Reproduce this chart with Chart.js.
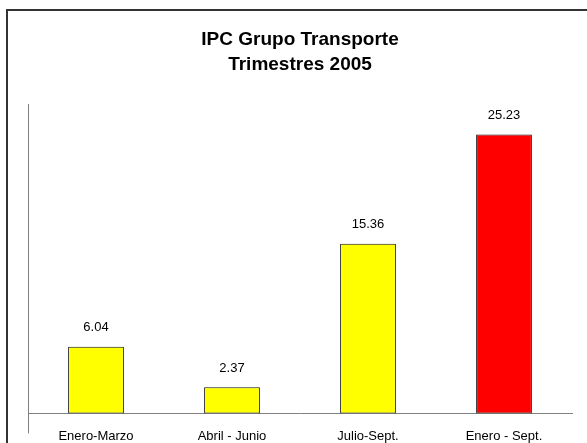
<!DOCTYPE html>
<html>
<head>
<meta charset="utf-8">
<script src="https://cdn.jsdelivr.net/npm/chart.js@4/dist/chart.umd.min.js"></script>
<style>
  html, body { margin: 0; padding: 0; background: #fff; }
  #wrap { position: relative; width: 587px; height: 443px; overflow: hidden; }
  #frame {
    position: absolute; left: 6px; top: 9px; width: 620px; height: 480px;
    border: 2px solid #333; pointer-events: none;
  }
</style>
</head>
<body>
<div id="wrap">
  <canvas id="ipcChart" width="587" height="443"></canvas>
  <div id="frame"></div>
</div>
<script>
// IPC grupo transporte, variacion por trimestre 2005
const categories = ["Enero-Marzo", "Abril - Junio", "Julio-Sept.", "Enero - Sept."];
const values = [6.04, 2.37, 15.36, 25.23];
const titleLines = ["IPC Grupo Transporte", "Trimestres 2005"];

const FONT = '"Liberation Sans", Arial, sans-serif';

// numbers above each bar
const valueLabels = {
  id: "valueLabels",
  afterDatasetsDraw(chart) {
    const ctx = chart.ctx;
    const meta = chart.getDatasetMeta(0);
    ctx.save();
    ctx.font = "13px " + FONT;
    ctx.fillStyle = "#000";
    ctx.textAlign = "center";
    ctx.textBaseline = "middle";
    meta.data.forEach((bar, i) => {
      ctx.fillText(values[i].toFixed(2), bar.x, bar.y - 19);
    });
    ctx.restore();
  }
};

// y axis line runs a bit below the category axis
const axisTail = {
  id: "axisTail",
  afterDraw(chart) {
    const { ctx, chartArea } = chart;
    const x = Math.round(chartArea.left) + 0.5;
    ctx.save();
    ctx.strokeStyle = "#808080";
    ctx.lineWidth = 1;
    ctx.beginPath();
    ctx.moveTo(x, chartArea.bottom);
    ctx.lineTo(x, chartArea.bottom + 20);
    ctx.stroke();
    ctx.restore();
  }
};

new Chart(document.getElementById("ipcChart"), {
  type: "bar",
  data: {
    labels: categories,
    datasets: [{
      data: values,
      backgroundColor: ["#ffff00", "#ffff00", "#ffff00", "#ff0000"],
      borderColor: "#111",
      borderWidth: 1,
      borderSkipped: false,
      categoryPercentage: 1,
      barPercentage: 0.41
    }]
  },
  options: {
    responsive: false,
    animation: false,
    devicePixelRatio: 1,
    layout: { padding: { top: 10, left: 28, right: 15, bottom: -8 } },
    plugins: {
      legend: { display: false },
      tooltip: { enabled: false },
      title: {
        display: true,
        text: titleLines,
        color: "#000",
        font: { family: FONT, size: 19, weight: "bold", lineHeight: 24.5 / 19 },
        padding: { top: 18, bottom: 27 }
      }
    },
    scales: {
      x: {
        grid: { display: false },
        border: { display: true, color: "#808080", width: 1 },
        ticks: { color: "#000", padding: 7, font: { family: FONT, size: 13 }, maxRotation: 0 }
      },
      y: {
        min: 0,
        max: 28,
        grid: { display: false, drawTicks: false },
        border: { display: true, color: "#808080", width: 1 },
        ticks: { display: false }
      }
    }
  },
  plugins: [valueLabels, axisTail]
});
</script>
</body>
</html>
